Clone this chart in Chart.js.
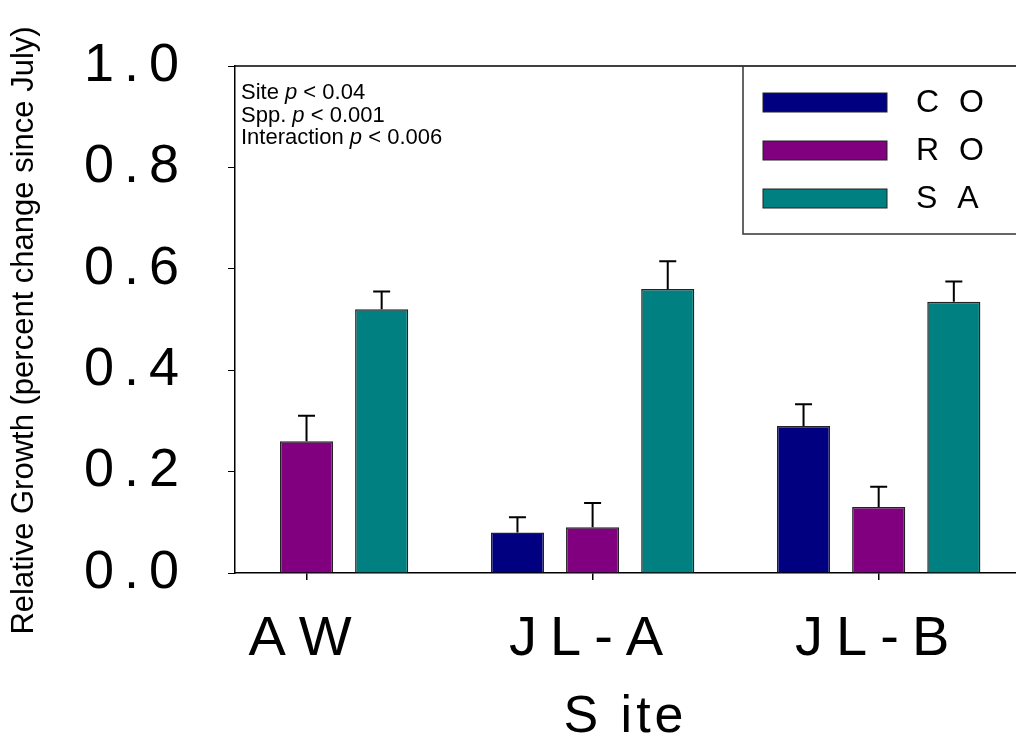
<!DOCTYPE html>
<html>
<head>
<meta charset="utf-8">
<script src="https://cdn.jsdelivr.net/npm/chart.js@4.4.1/dist/chart.umd.min.js"></script>
<style>
  html, body { margin: 0; padding: 0; background: #fff; }
</style>
</head>
<body>
<canvas id="growth_chart" width="1016" height="747"></canvas>
<script>
// data
const sites = ["AW", "JL-A", "JL-B"];
const species = ["CO", "RO", "SA"];
const coGrowth = [null, 0.08, 0.29];
const roGrowth = [0.26, 0.09, 0.13];
const saGrowth = [0.52, 0.56, 0.535];
const coError = [null, 0.03, 0.043];
const roError = [0.05, 0.048, 0.04];
const saError = [0.035, 0.055, 0.04];
const yTicks = [0, 0.2, 0.4, 0.6, 0.8, 1.0];
const statLines = [
  ["Site ", "p", " < 0.04"],
  ["Spp. ", "p", " < 0.001"],
  ["Interaction ", "p", " < 0.006"],
];

const FONT = "'Liberation Sans', Arial, sans-serif";
const colors = ["#000080", "#800080", "#008080"];

const toPoints = (vals) => vals.map((v, i) => ({ x: i, y: v }));

// letter spacing for the axis texts (chart.js has no option for it)
const spacing = {
  x: { labels: "13px", title: "4px", shift: 0 },
  y: { labels: "10px", title: "0px", shift: 11 },
};

const spacedText = {
  id: "spacedText",
  afterLayout(chart) {
    Object.keys(spacing).forEach((id) => {
      const scale = chart.scales[id];
      if (!scale || scale._spaced) return;
      const drawLabels = scale.drawLabels;
      const drawTitle = scale.drawTitle;
      scale.drawLabels = function (area) {
        this.ctx.save();
        this.ctx.fontKerning = "none";
        this.ctx.letterSpacing = spacing[id].labels;
        drawLabels.call(this, area);
        this.ctx.restore();
      };
      scale.drawTitle = function () {
        this.ctx.save();
        this.ctx.letterSpacing = spacing[id].title;
        this.ctx.translate(0, spacing[id].shift);
        drawTitle.call(this);
        this.ctx.restore();
      };
      scale._spaced = true;
    });
  },
};

const errorBars = {
  id: "errorBars",
  afterDatasetsDraw(chart) {
    const ctx = chart.ctx;
    const yScale = chart.scales.y;
    ctx.save();
    ctx.strokeStyle = "#000";
    ctx.lineWidth = 2;
    chart.data.datasets.forEach((ds, di) => {
      const meta = chart.getDatasetMeta(di);
      meta.data.forEach((bar, i) => {
        const v = ds.data[i].y;
        const e = ds.errors[i];
        if (v == null || e == null) return;
        const top = yScale.getPixelForValue(v + e);
        ctx.beginPath();
        ctx.moveTo(bar.x, bar.y);
        ctx.lineTo(bar.x, top);
        ctx.moveTo(bar.x - 8.5, top);
        ctx.lineTo(bar.x + 8.5, top);
        ctx.stroke();
      });
    });
    ctx.restore();
  },
};

// top frame line, stats text and the boxed legend
const extras = {
  id: "extras",
  afterDraw(chart) {
    const { ctx, chartArea: a } = chart;
    ctx.save();
    ctx.strokeStyle = "#000";
    ctx.lineWidth = 1.5;
    ctx.beginPath();
    ctx.moveTo(a.left, a.top);
    ctx.lineTo(a.right, a.top);
    ctx.stroke();

    ctx.fillStyle = "#000";
    ctx.textBaseline = "alphabetic";
    ctx.textAlign = "left";
    statLines.forEach((parts, i) => {
      let x = a.left + 6;
      const y = a.top + 33 + i * 22.5;
      parts.forEach((t, j) => {
        ctx.font = (j === 1 ? "italic " : "") + "22px " + FONT;
        ctx.fillText(t, x, y);
        x += ctx.measureText(t).width;
      });
    });

    // legend box
    const bx = a.right - 273;
    const by = a.top;
    const bb = a.top + 168;
    ctx.strokeStyle = "#333";
    ctx.lineWidth = 1.5;
    ctx.beginPath();
    ctx.moveTo(bx, by);
    ctx.lineTo(bx, bb);
    ctx.lineTo(a.right, bb);
    ctx.stroke();

    ctx.font = "32px " + FONT;
    ctx.textBaseline = "middle";
    ctx.fontKerning = "none";
    ctx.letterSpacing = "20px";
    chart.data.datasets.forEach((ds, i) => {
      const sy = by + 27 + i * 48;
      ctx.fillStyle = ds.backgroundColor;
      ctx.fillRect(bx + 20, sy, 124, 19);
      ctx.strokeStyle = "#222";
      ctx.lineWidth = 1;
      ctx.strokeRect(bx + 20, sy, 124, 19);
      ctx.fillStyle = "#000";
      ctx.fillText(ds.label, bx + 173, sy + 10);
    });
    ctx.restore();
  },
};

const data = {
  datasets: [
    { label: species[0], data: toPoints(coGrowth), errors: coError, backgroundColor: colors[0] },
    { label: species[1], data: toPoints(roGrowth), errors: roError, backgroundColor: colors[1] },
    { label: species[2], data: toPoints(saGrowth), errors: saError, backgroundColor: colors[2] },
  ].map((ds) => ({
    ...ds,
    borderColor: "#222",
    borderWidth: 1.5,
    categoryPercentage: 0.788,
    barPercentage: 0.707,
  })),
};

const config = {
  type: "bar",
  data: data,
  options: {
    responsive: false,
    animation: false,
    layout: { padding: { top: 66, right: 0, bottom: 0, left: 0 } },
    plugins: {
      legend: { display: false },
      tooltip: { enabled: false },
    },
    scales: {
      x: {
        type: "linear",
        min: -0.25,
        max: 2.48,
        offset: false,
        afterBuildTicks: (axis) => {
          axis.ticks = sites.map((s, i) => ({ value: i }));
        },
        afterFit: (axis) => {
          axis.height = 174;
        },
        grid: {
          offset: false,
          drawOnChartArea: false,
          drawTicks: true,
          tickLength: 7,
          color: "#000",
          lineWidth: 1.5,
        },
        border: { color: "#000", width: 1.5 },
        ticks: {
          callback: (v) => sites[v],
          color: "#000",
          font: { family: FONT, size: 56, lineHeight: 1 },
          padding: 32,
          maxRotation: 0,
          autoSkip: false,
        },
        title: {
          display: true,
          text: "S ite",
          color: "#000",
          font: { family: FONT, size: 52, lineHeight: 1 },
          padding: { top: 0, bottom: 3 },
        },
      },
      y: {
        min: 0,
        max: 1,
        afterBuildTicks: (axis) => {
          axis.ticks = yTicks.map((v) => ({ value: v }));
        },
        afterFit: (axis) => {
          axis.width = 235;
        },
        grid: {
          drawOnChartArea: false,
          drawTicks: true,
          tickLength: 7,
          color: "#000",
          lineWidth: 1,
        },
        border: { color: "#000", width: 1.5 },
        ticks: {
          callback: (v) => v.toFixed(1),
          color: "#000",
          font: { family: FONT, size: 54, lineHeight: 1 },
          padding: 39,
        },
        title: {
          display: true,
          text: "Relative Growth (percent change since July)",
          color: "#000",
          font: { family: FONT, size: 31, lineHeight: 1 },
          padding: { top: 9, bottom: 0 },
        },
      },
    },
  },
  plugins: [spacedText, errorBars, extras],
};

const growthChart = new Chart(document.getElementById("growth_chart"), config);
</script>
</body>
</html>
